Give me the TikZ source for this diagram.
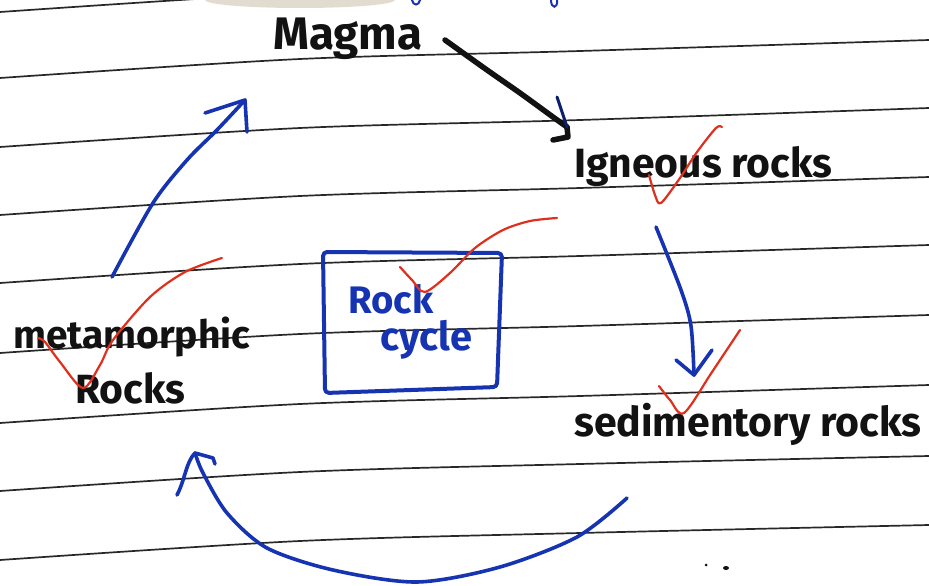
\documentclass[tikz,border=0pt]{standalone}
\usepackage{fontspec}
\setmainfont{Fira Sans}
\usepackage{graphicx}
\definecolor{pen}{RGB}{22,52,178}
\definecolor{redpen}{RGB}{222,48,28}
\definecolor{ink}{RGB}{18,18,18}
\definecolor{rulecol}{RGB}{40,40,40}
\definecolor{smudge}{RGB}{215,205,188}
\begin{document}
\begin{tikzpicture}[x=1pt,y=-1pt,
  ruling/.style={rulecol, line width=1.7pt},
  bluepen/.style={pen, line width=3.6pt, line cap=round, line join=round},
  redmark/.style={redpen, line width=2.2pt, line cap=round, line join=round},
  blackpen/.style={ink, line width=5.5pt, line cap=round, line join=round},
  word/.style={inner sep=0pt, anchor=base west, text=ink, font=\bfseries},
  blueword/.style={inner sep=0pt, anchor=base west, text=pen, font=\bfseries}]
\useasboundingbox (0,0) rectangle (929,586);
\fill[white] (0,0) rectangle (929,586);
\clip (0,0) rectangle (929,586);

% paper artifacts
\fill[smudge, opacity=0.7] (300,0) ellipse [x radius=95pt, y radius=8pt];
\draw[pen, line width=2pt, line cap=round] (412,0) .. controls (413,6) and (419,6) .. (420,0);
\draw[pen, line width=2pt, line cap=round] (551,0) .. controls (551,9) and (558,9) .. (557,0);

% ruled lines
\foreach \yy/\dd in {12/38,78/38,147/39,215/38,283/38,353/38,423/38,491/35,560/35}
  \draw[ruling] plot[smooth] coordinates {(0,\yy) (300,\yy-19) (580,\yy-27) (929,\yy-\dd)};

% texts
\node[word] (magma) at (273,50) {\resizebox{149pt}{!}{Magma}};
\node[word] (igneous) at (574,177) {\resizebox{258pt}{!}{Igneous rocks}};
\node[word] (sedim) at (574,436) {\resizebox{347pt}{!}{sedimentory rocks}};
\node[word] (meta) at (13,348) {\resizebox{237pt}{!}{metamorphic}};
\node[word] (metarocks) at (75,403) {\resizebox{110pt}{!}{Rocks}};
\node[blueword] (rock) at (348,313) {\resizebox{85pt}{!}{Rock}};
\node[blueword] (cycle) at (380,350) {\resizebox{92pt}{!}{cycle}};

% box
\coordinate (b1) at (323,252);
\coordinate (b2) at (502,253);
\coordinate (b3) at (497,387);
\coordinate (b4) at (325,393);
\draw[bluepen, line width=4pt, rounded corners=4pt] (b1) -- (b2) -- (b3) -- (b4) -- cycle;

% black arrow Magma -> Igneous
\coordinate (k0) at (445,40);
\coordinate (k1) at (567,127);
\draw[blackpen] plot[smooth] coordinates {(k0) (487,70) (520,93) (553,117) (k1)};
\draw[blackpen] (k1) -- (568,137) -- (553,140);
\draw[pen!60!black, line width=3pt, line cap=round] (557,97) -- (k1);

% blue arrow Igneous -> sedimentary
\coordinate (s0) at (656,227);
\coordinate (s1) at (694,375);
\draw[bluepen] plot[smooth] coordinates {(s0) (681,290) (691,326) (s1)};
\draw[bluepen] (676,360) -- (s1) -- (712,350);

% blue arc sedimentary -> metamorphic
\coordinate (c0) at (627,498);
\coordinate (c1) at (195,453);
\draw[bluepen] plot[smooth] coordinates {(c0) (577,537) (500,567) (417,582) (333,570) (267,548) (227,513) (203,473) (c1)};
\draw[bluepen] (177,495) .. controls (185,480) and (186,462) .. (c1) -- (213,458) -- (215,464);

% blue arrow metamorphic -> Magma
\coordinate (m0) at (112,277);
\coordinate (m1) at (245,100);
\draw[bluepen] plot[smooth] coordinates {(m0) (153,203) (187,160) (217,130) (m1)};
\draw[bluepen] (205,113) -- (m1) -- (247,132);

% red marks
\draw[redmark] plot[smooth] coordinates {(649,175) (655,195) (661,203) (680,178) (697,152) (716,128) (722,127)};
\draw[redmark] plot[smooth] coordinates {(400,267) (412,280) (425,292) (450,273) (475,248) (503,230) (530,221) (557,218)};
\draw[redmark] plot[smooth] coordinates {(38,338) (45,342) (60,362) (83,388) (100,365) (113,340) (150,297) (185,272) (222,258)};
\draw[redmark] plot[smooth] coordinates {(659,386) (670,400) (684,413) (712,372) (740,330)};

% specks
\fill[ink] (706,565) circle (1.5pt);
\fill[ink] (726,568) ellipse [x radius=3pt, y radius=2pt];
\end{tikzpicture}
\end{document}
